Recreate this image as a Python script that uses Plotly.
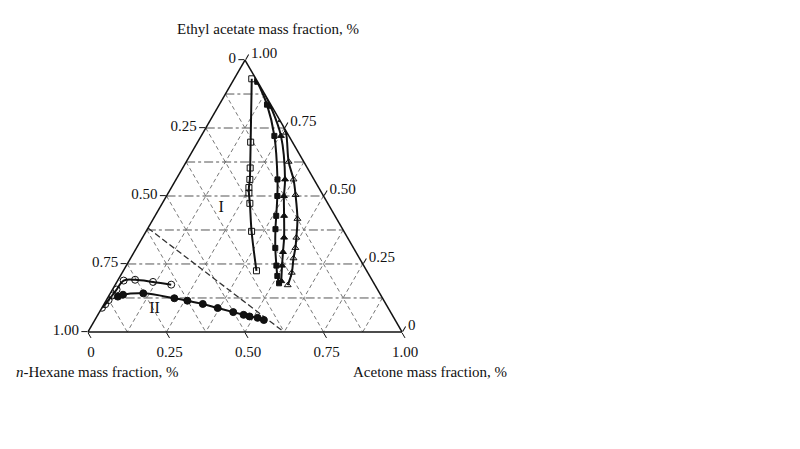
import plotly.graph_objects as go

# compositions (mass fractions)
# a = ethyl acetate, c = acetone, n-hexane = 1 - a - c
S1_ETHYL = [0.931, 0.698, 0.603, 0.561, 0.531, 0.511, 0.473, 0.370, 0.225]
S1_ACETONE = [0.056, 0.169, 0.215, 0.235, 0.247, 0.257, 0.279, 0.336, 0.424]

S2_ETHYL = [0.920, 0.836, 0.721, 0.561, 0.500, 0.427, 0.378, 0.309, 0.244, 0.206, 0.179]
S2_ACETONE = [0.079, 0.152, 0.233, 0.323, 0.353, 0.386, 0.408, 0.442, 0.478, 0.500, 0.519]

S3_ETHYL = [0.920, 0.828, 0.721, 0.561, 0.500, 0.427, 0.347, 0.294, 0.244, 0.187]
S3_ACETONE = [0.085, 0.168, 0.254, 0.347, 0.374, 0.411, 0.451, 0.474, 0.496, 0.522]

S4_ETHYL = [0.912, 0.836, 0.779, 0.733, 0.626, 0.561, 0.504, 0.416, 0.347, 0.309, 0.271, 0.218, 0.172]
S4_ACETONE = [0.099, 0.173, 0.226, 0.264, 0.326, 0.374, 0.409, 0.459, 0.490, 0.506, 0.519, 0.540, 0.550]

OPEN_ETHYL = [0.089, 0.102, 0.117, 0.134, 0.156, 0.189, 0.192, 0.184, 0.174]
OPEN_ACETONE = [0.000, 0.004, 0.007, 0.010, 0.013, 0.019, 0.054, 0.115, 0.178]

FILLED_ETHYL = [0.130, 0.137, 0.142, 0.124, 0.115, 0.103, 0.088, 0.073, 0.063, 0.057, 0.052, 0.044]
FILLED_ACETONE = [0.030, 0.043, 0.105, 0.213, 0.259, 0.314, 0.369, 0.426, 0.464, 0.486, 0.514, 0.538]

TIE_ETHYL = [0.382, 0.0]
TIE_ACETONE = [0.0, 0.624]

REGION_LABELS = ["I", "II"]
REGION_ETHYL = [0.454, 0.084]
REGION_ACETONE = [0.197, 0.170]

GRID_LEVELS = [0.125, 0.25, 0.375, 0.5, 0.625, 0.75, 0.875]
TICK_VALUES = [0, 0.25, 0.5, 0.75, 1]
# each edge is labelled with the complement of the plotly axis value
TICK_TEXT = ["1.00", "0.75", "0.50", "0.25", "0"]

FONT = "Liberation Serif, Times New Roman, serif"
INK = "#111111"


def hexane(ethyl, acetone):
    return [round(1 - e - a, 4) for e, a in zip(ethyl, acetone)]


fig = go.Figure()

# grid lines: horizontal (constant ethyl acetate) and the two diagonal families
for v in GRID_LEVELS:
    fig.add_trace(go.Scatterternary(
        a=[v, v], b=[1 - v, 0], c=[0, 1 - v], mode="lines",
        line={"color": "#555555", "width": 1, "dash": "dashdot"},
        hoverinfo="skip", showlegend=False))
    fig.add_trace(go.Scatterternary(
        a=[1 - v, 0], b=[v, v], c=[0, 1 - v], mode="lines",
        line={"color": "#777777", "width": 1, "dash": "4px,3px"},
        hoverinfo="skip", showlegend=False))
    fig.add_trace(go.Scatterternary(
        a=[1 - v, 0], b=[0, 1 - v], c=[v, v], mode="lines",
        line={"color": "#777777", "width": 1, "dash": "4px,3px"},
        hoverinfo="skip", showlegend=False))

fig.add_trace(go.Scatterternary(
    a=TIE_ETHYL, b=hexane(TIE_ETHYL, TIE_ACETONE), c=TIE_ACETONE, mode="lines",
    line={"color": "#333333", "width": 1.3, "dash": "6px,3px"},
    hoverinfo="skip", showlegend=False))

series = [
    (S1_ETHYL, S1_ACETONE, "square-open", 6),
    (S2_ETHYL, S2_ACETONE, "square", 5),
    (S3_ETHYL, S3_ACETONE, "triangle-up", 6),
    (S4_ETHYL, S4_ACETONE, "triangle-up-open", 6),
    (OPEN_ETHYL, OPEN_ACETONE, "circle-open", 7),
    (FILLED_ETHYL, FILLED_ACETONE, "circle", 7),
]
for ethyl, acetone, symbol, size in series:
    fig.add_trace(go.Scatterternary(
        a=ethyl, b=hexane(ethyl, acetone), c=acetone, mode="lines+markers",
        line={"color": INK, "width": 2, "shape": "spline"},
        marker={"symbol": symbol, "size": size, "color": INK,
                "line": {"color": INK, "width": 1}},
        showlegend=False))

fig.add_trace(go.Scatterternary(
    a=REGION_ETHYL, b=hexane(REGION_ETHYL, REGION_ACETONE), c=REGION_ACETONE,
    mode="text", text=REGION_LABELS,
    textfont={"family": FONT, "size": 16, "color": INK},
    hoverinfo="skip", showlegend=False))


def axis():
    return {
        "title": {"text": ""},
        "tickmode": "array", "tickvals": TICK_VALUES, "ticktext": TICK_TEXT,
        "ticks": "outside", "ticklen": 6, "tickcolor": INK,
        "tickfont": {"family": FONT, "size": 15, "color": INK},
        "showgrid": False, "linecolor": INK, "linewidth": 1.5, "min": 0,
    }


title_font = {"family": FONT, "size": 15, "color": INK}
fig.update_layout(
    width=800, height=449,
    paper_bgcolor="white",
    margin={"l": 0, "r": 0, "t": 0, "b": 0},
    ternary={
        "sum": 1,
        "bgcolor": "white",
        "domain": {"x": [0.1, 0.4925], "y": [0.2784, 0.8842]},
        "aaxis": axis(),
        "baxis": axis(),
        "caxis": axis(),
    },
    annotations=[
        {"text": "Ethyl acetate mass fraction, %", "x": 0.325, "y": 0.953,
         "xanchor": "center"},
        {"text": "<i>n</i>-Hexane mass fraction, %", "x": 0.007, "y": 0.19,
         "xanchor": "left"},
        {"text": "Acetone mass fraction, %", "x": 0.528, "y": 0.19,
         "xanchor": "center"},
    ],
)
fig.update_annotations(xref="paper", yref="paper", showarrow=False, font=title_font,
                       yanchor="middle")

fig.write_html("out.html")
